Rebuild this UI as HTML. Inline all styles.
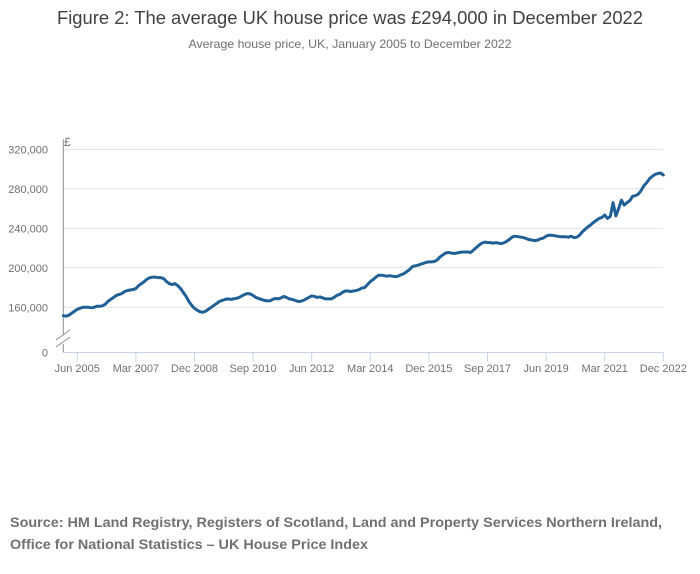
<!DOCTYPE html>
<html><head><meta charset="utf-8"><style>
body{margin:0;background:#fff;}
svg{display:block;font-family:"Liberation Sans",sans-serif;}
</style></head><body>
<svg id="chart" width="700" height="574">
<text x="350" y="24" text-anchor="middle" font-size="18.5" fill="#414042" textLength="586" lengthAdjust="spacingAndGlyphs">Figure 2: The average UK house price was £294,000 in December 2022</text>
<text x="350" y="48" text-anchor="middle" font-size="12" fill="#707071" textLength="323" lengthAdjust="spacingAndGlyphs">Average house price, UK, January 2005 to December 2022</text>
<g id="grid"></g>
<g id="yticks"></g>
<g id="xticks"></g>
<text x="64" y="146" font-size="12" fill="#707071">£</text>
<g id="series"></g>
<text x="10" y="527" font-size="14" font-weight="bold" fill="#707071" textLength="652" lengthAdjust="spacingAndGlyphs">Source: HM Land Registry, Registers of Scotland, Land and Property Services Northern Ireland,</text>
<text x="10" y="549" font-size="14" font-weight="bold" fill="#707071" textLength="358" lengthAdjust="spacingAndGlyphs">Office for National Statistics – UK House Price Index</text>
</svg>
<script>
const yTicks=[160000,200000,240000,280000,320000];
const yTickLabels=["160,000","200,000","240,000","280,000","320,000"];
const xTickMonths=[5,26,47,68,89,110,131,152,173,194,215];
const xTickLabels=["Jun 2005","Mar 2007","Dec 2008","Sep 2010","Jun 2012","Mar 2014","Dec 2015","Sep 2017","Jun 2019","Mar 2021","Dec 2022"];
const pricesK=[
151.5,151,152,154,156,158,159,160,160,160,159.5,160,
161,161,161.5,163,166,168,170,172,173,174,176,177,
177.5,178,179,182,184,186,188.5,190,190.5,190.5,190,190,
189,186,184,183,184,182,179,175,171,166,162,159,
157,155.5,155,156,158,160,162,164,166,167,168,168.5,
168,168.5,169,170,171.5,173,174,173.5,172,170,169,168,
167,166.5,166.5,168,169,168.5,169.5,171,170,168.5,168,167,
166,166,167,168.5,170,171.5,171,170,170.5,169.5,168.5,168.5,
168.5,170,172,173,175,176.5,176.5,176,176.5,177,178,179.5,
180,183,186,188,190.5,192.5,192.5,192,191.5,192,191.5,191,
191.5,193,194,196,198,201,202,202.5,203.5,204.5,205.5,206,
206,206.5,208,211,213,215,215.5,215,214.5,215,215.5,216,
216,216,215.5,218,220.5,223,225,226,225.5,225.5,225,225.5,
225,224.5,225.5,227,229,231.5,232,231.5,231,230.5,229.5,228.5,
228,227.5,228,229.5,230,232,233,233,232.5,232,231.5,231.5,
231.5,231,232,230.5,231,233,236.5,239,241.5,243.5,246,248,
250,251,253.5,250,252,266,252.5,260,268.5,263.5,266,268,
272.5,273,274.5,278,283,286,290,292.5,294.5,295.5,296,294];
const NS="http://www.w3.org/2000/svg";
const x0=63.3,x1=663.3,nMonths=215;
const xs=m=>x0+(x1-x0)*m/nMonths;
const ys=v=>307.3-(v-160000)*(158/160000);
const zeroY=352.5;
function mk(tag,attrs,parent){const e=document.createElementNS(NS,tag);for(const k in attrs)e.setAttribute(k,attrs[k]);parent.appendChild(e);return e;}
const grid=document.getElementById('grid'),yt=document.getElementById('yticks'),xt=document.getElementById('xticks'),ser=document.getElementById('series');
yTicks.forEach((v,i)=>{
  const l=mk('line',{x1:x0,x2:x1,y1:ys(v),y2:ys(v),stroke:'#e2e2e3','stroke-width':1},grid);
  
  
  const t=mk('text',{x:48,y:ys(v)+4,'text-anchor':'end','font-size':11,fill:'#707071'},yt);
  t.textContent=yTickLabels[i];
  
  
});
const z=mk('text',{x:48,y:zeroY+4,'text-anchor':'end','font-size':11,fill:'#707071'},yt);
z.textContent="0";


const ax=mk('path',{d:`M${x0} ${ys(320000)-10}V335M${x0} 344V${zeroY}`,stroke:'#8d8d8d','stroke-width':1,fill:'none'},yt);


const br=mk('path',{d:`M56 340L70 330M56 347L70 337`,stroke:'#8d8d8d','stroke-width':1,fill:'none'},yt);


const xa=mk('line',{x1:x0,x2:x1,y1:zeroY,y2:zeroY,stroke:'#c6d3e6','stroke-width':1},xt);


xTickMonths.forEach((m,i)=>{
  const l=mk('line',{x1:xs(m),x2:xs(m),y1:zeroY,y2:zeroY+9,stroke:'#c6d3e6','stroke-width':1},xt);
  
  
  const t=mk('text',{x:xs(m),y:372,'text-anchor':'middle','font-size':11,fill:'#707071'},xt);
  t.textContent=xTickLabels[i];
  
  
});
const d=pricesK.map((v,i)=>(i?'L':'M')+xs(i).toFixed(2)+' '+ys(v*1000).toFixed(2)).join('');
const p=mk('path',{d:d,stroke:'#206095','stroke-width':3,fill:'none','stroke-linejoin':'round','stroke-linecap':'round'},ser);


</script>
</body></html>
